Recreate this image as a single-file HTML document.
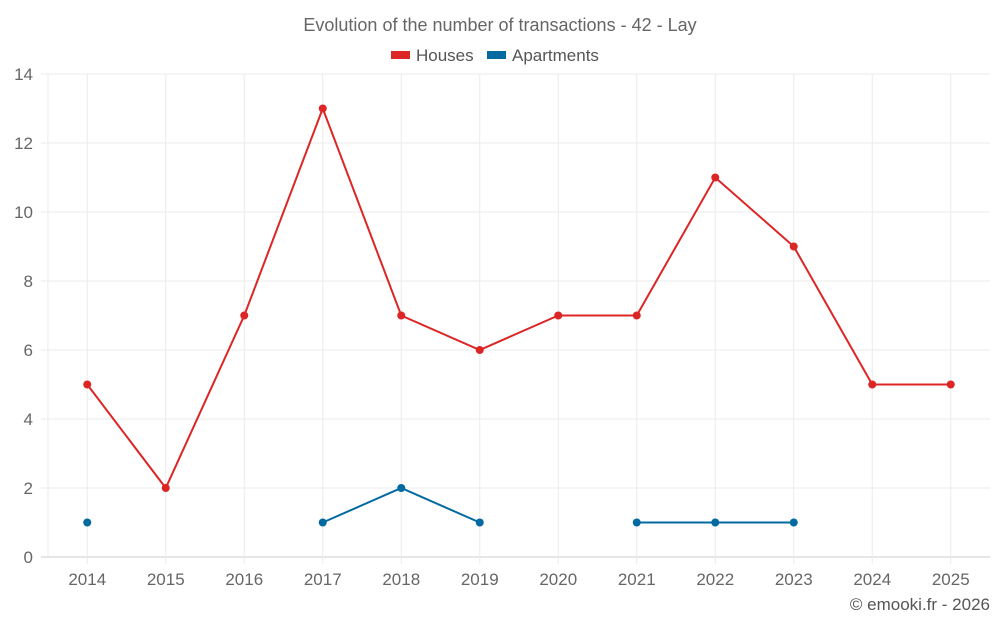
<!DOCTYPE html>
<html><head><meta charset="utf-8">
<style>
body{margin:0;background:#fff;font-family:"Liberation Sans",sans-serif;}
svg text{font-family:"Liberation Sans",sans-serif;}
</style></head>
<body>
<svg id="chart" width="1000" height="625" xmlns="http://www.w3.org/2000/svg">
<text x="500" y="31" text-anchor="middle" font-size="18" fill="#666">Evolution of the number of transactions - 42 - Lay</text>
<g>
<g><rect x="391" y="51" width="19" height="8" fill="#dc2626"/><text x="416" y="61" font-size="17" fill="#555">Houses</text></g>
<g><rect x="487" y="51" width="19" height="8" fill="#0369a1"/><text x="512" y="61" font-size="17" fill="#555">Apartments</text></g>
</g>
<g id="grid"></g><g id="axes"></g><g id="series"></g>
<text x="990" y="610" text-anchor="end" font-size="17" fill="#555">© emooki.fr - 2026</text>
</svg>
<script>
const categories=["2014","2015","2016","2017","2018","2019","2020","2021","2022","2023","2024","2025"];
const houses=[5,2,7,13,7,6,7,7,11,9,5,5];
const apartments=[1,null,null,1,2,1,null,1,1,1,null,null];
const yTicks=[0,2,4,6,8,10,12,14];
const NS="http://www.w3.org/2000/svg";
const L=48,R=990,T=74,B=557,yMax=14;
const bw=(R-L)/categories.length;
function x(i){return L+bw*(i+0.5);}
function y(v){return B-(v/yMax)*(B-T);}
function mk(tag,attrs,parent){const e=document.createElementNS(NS,tag);for(const k in attrs)e.setAttribute(k,attrs[k]);parent.appendChild(e);return e;}
const grid=document.getElementById('grid'),axes=document.getElementById('axes'),ser=document.getElementById('series');
yTicks.forEach(t=>{
  const ln=mk('line',{x1:41,x2:R,y1:y(t),y2:y(t),stroke:t===0?'#ccc':'#ebebeb','stroke-width':1},grid);
  
  
  const tx=mk('text',{x:33,y:y(t)+6,'text-anchor':'end','font-size':17,fill:'#666'},axes);
  tx.textContent=t;
  
  
});
const vl=mk('line',{x1:L,x2:L,y1:T,y2:B,stroke:'#ebebeb'},grid);


categories.forEach((c,i)=>{
  const ln=mk('line',{x1:x(i),x2:x(i),y1:T,y2:B+7,stroke:'#ebebeb'},grid);
  
  
  const tx=mk('text',{x:x(i),y:585,'text-anchor':'middle','font-size':17,fill:'#666'},axes);
  tx.textContent=c;
  
  
});
function draw(vals,color,name){
  let seg=[];
  const flush=()=>{if(seg.length>1){const p=mk('polyline',{points:seg.join(' '),fill:'none',stroke:color,'stroke-width':2},ser);
    
    }seg=[];};
  vals.forEach((v,i)=>{if(v===null){flush();return;}seg.push(x(i)+','+y(v));});
  flush();
  vals.forEach((v,i)=>{if(v===null)return;
    const c=mk('circle',{cx:x(i),cy:y(v),r:4,fill:color},ser);
    
    });
}
draw(houses,'#dc2626','houses');
draw(apartments,'#0369a1','apartments');
</script>
</body></html>
